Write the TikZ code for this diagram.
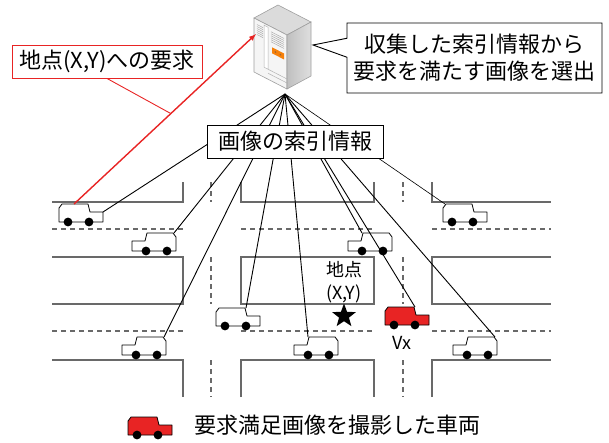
\documentclass[tikz,border=0pt]{standalone}
\usepackage{fontspec}
\usetikzlibrary{shapes.geometric,shapes.callouts}
\newfontfamily\jpfont{Noto Sans CJK JP}
\definecolor{carred}{RGB}{232,36,36}
\definecolor{roadgray}{RGB}{105,105,105}
\tikzset{
  road/.style={roadgray, line width=1.1pt},
  lane/.style={roadgray, line width=1.1pt, dash pattern=on 5pt off 4pt},
  feed/.style={black, line width=0.9pt},
  tagbox/.style={draw, fill=white, line width=0.9pt, inner sep=0pt,
    font=\jpfont\fontsize{22}{27}\selectfont},
  small/.style={font=\jpfont\fontsize{18}{23}\selectfont, inner sep=0pt},
  van/.pic={
    \draw[pic actions, line width=0.8pt, line join=round]
      (0,18) -- (0,4) -- (3,0) -- (29,0) -- (31,8) -- (44,8) -- (44,18) -- cycle;
    \fill[black] (9,18) circle (4.4) (30,18) circle (4.4);
    \coordinate (-roof) at (15,0);
    \coordinate (-rear) at (2,0);
    \coordinate (-front) at (30,0);
    \coordinate (-nose) at (44,8);
  }
}

\begin{document}
\begin{tikzpicture}[x=1pt, y=-1pt]
  \useasboundingbox (0,0) rectangle (609,442);

  % street blocks
  \draw[road] (52,202) -- (183,202) -- (183,182);
  \draw[road] (241,182) -- (241,202) -- (374,202) -- (374,182);
  \draw[road] (432,182) -- (432,202) -- (551,202);
  \draw[road] (52,257) -- (183,257) -- (183,304) -- (52,304);
  \draw[road] (241,257) rectangle (374,304);
  \draw[road] (551,257) -- (432,257) -- (432,304) -- (551,304);
  \draw[road] (52,360) -- (183,360) -- (183,397);
  \draw[road] (241,397) -- (241,360) -- (374,360) -- (374,397);
  \draw[road] (432,397) -- (432,360) -- (551,360);
  % centre lines
  \foreach \a/\b in {52/183, 241/374, 432/551} {
    \draw[lane] (\a,229) -- (\b,229);
    \draw[lane] (\a,331) -- (\b,331);
  }
  \foreach \x in {211, 403}
    \foreach \a/\b in {182/202, 257/304, 360/397}
      \draw[lane] (\x,\a) -- (\x,\b);

  % vehicles
  \pic[fill=white] (v1) at (59,204) {van};
  \pic[fill=white, xscale=-1] (v2) at (176,233) {van};
  \pic[fill=white] (v3) at (443,204) {van};
  \pic[fill=white, xscale=-1] (v4) at (392,233) {van};
  \pic[fill=white] (v5) at (216,308) {van};
  \pic[fill=carred] (vx) at (385,307) {van};
  \pic[fill=white, xscale=-1] (v6) at (166,337) {van};
  \pic[fill=white, xscale=-1] (v7) at (338,337) {van};
  \pic[fill=white, xscale=-1] (v8) at (497,337) {van};

  % index uploads to the server
  \coordinate (hub) at (285,94);
  \foreach \c in {v1-nose, v2-rear, v4-front, v5-front, vx-front, v6-rear, v7-front, v8-rear}
    \draw[feed] (hub) -- (\c);
  \draw[feed, line width=0.6pt] (hub) -- (v3-rear);

  % server tower
  \fill[gray!28, draw=gray!75, line width=0.6pt] (278,5) -- (254,18) -- (287,35) -- (311,22) -- cycle;
  \fill[gray!8, draw=gray!75, line width=0.6pt] (254,18) -- (287,35) -- (287,89) -- (254,72) -- cycle;
  \shade[left color=gray!50, right color=gray!25, draw=gray!75, line width=0.6pt]
    (287,35) -- (311,22) -- (311,76) -- (287,89) -- cycle;
  \begin{scope}[shift={(254,18)}, yslant=-0.515]
    \foreach \v in {5,7,...,15}
      \draw[gray!65, line width=0.5pt] (3,\v) -- (9,\v);
    \draw[gray!60, fill=white, line width=0.5pt] (10,2) rectangle (14,44);
    \foreach \v in {5,7,...,15}
      \draw[gray!65, line width=0.5pt] (17,\v) -- (30,\v);
    \fill[orange!85!brown] (18,20) rectangle (30,26);
    \fill[brown!80!black] (21.5,23) circle (0.9) (26.5,23) circle (0.9);
    \draw[gray!60, line width=0.5pt] (14,44) -- (33,44) (14,48) -- (33,48);
  \end{scope}
  \coordinate (srvtip) at (313,45);

  % request to the server
  \draw[carred, line width=1.4pt, -latex] (v1-roof) -- coordinate[pos=0.532] (reqhit) (256,34);

  % boxes
  \node[tagbox, draw=carred, minimum width=190, minimum height=33] (req) at (107,61.5)
    {地点(X,Y)への要求};
  \draw[carred, line width=0.9pt] (req.south) -- (reqhit);
  \node[tagbox, minimum width=176, minimum height=33] (index) at (295,141.5)
    {画像の索引情報};
  \node[tagbox, rectangle callout, align=center, minimum width=255, minimum height=70,
    callout absolute pointer={(srvtip)}, callout pointer width=19pt] (pick) at (474.5,58)
    {収集した索引情報から\\要求を満たす画像を選出};

  % target spot
  \node[small, align=center] (spot) at (344,282) {地点\\(X,Y)};
  \node[star, star points=5, star point ratio=2.4, fill=black, minimum size=25, inner sep=0pt]
    (mark) at (344,316) {};
  \node[small] (vxname) at (402,343) {Vx};

  % legend
  \pic[fill=carred] (key) at (128,417) {van};
  \node[small, font=\jpfont\fontsize{22}{27}\selectfont, anchor=west] (keytext) at (194,425)
    {要求満足画像を撮影した車両};
\end{tikzpicture}
\end{document}
